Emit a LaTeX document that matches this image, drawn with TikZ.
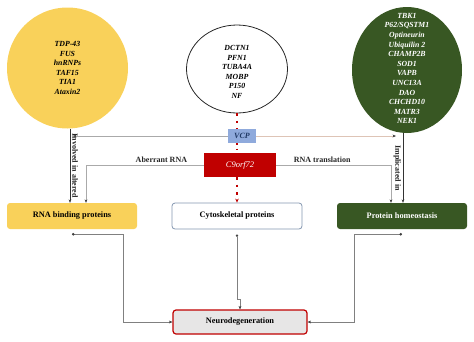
\documentclass[tikz,border=0pt]{standalone}
\usepackage{fontspec}
\setmainfont{Liberation Serif}
\usepackage{tikz}
\usetikzlibrary{arrows.meta, shapes.geometric}
\definecolor{rbpyellow}{RGB}{249,209,90}
\definecolor{homeogreen}{RGB}{56,87,35}
\definecolor{c9red}{RGB}{192,0,0}
\definecolor{vcpblue}{RGB}{143,170,220}
\definecolor{vcpnavy}{RGB}{31,56,100}
\definecolor{cytoblue}{RGB}{132,151,176}
\definecolor{neurogray}{RGB}{231,230,230}
\definecolor{linkgray}{RGB}{170,170,170}
\definecolor{linkrose}{RGB}{222,196,182}

\begin{document}
\begin{tikzpicture}[x=1pt, y=-1pt,
    genes/.style={font=\fontsize{7.8}{9.6}\selectfont\bfseries\itshape, align=center},
    box/.style={rounded corners=3pt, minimum width=130pt, minimum height=26pt,
        font=\fontsize{8.3}{9}\selectfont\bfseries},
    tag/.style={font=\fontsize{8}{9}\selectfont\bfseries, text=black!85, inner sep=2pt},
    tip/.style={-{Stealth[length=3.5pt, width=2.8pt, color=black!75]}},
    dotted link/.style={draw=black!50, {Circle[length=2.5pt, color=black!75]}-{Stealth[length=3.5pt, width=2.8pt, color=black!75]}}]
    \useasboundingbox (0,0) rectangle (474,341);

    % Gene clusters
    \node[circle, fill=rbpyellow, minimum size=121pt] (rbpgenes) at (67.5,68) {};
    \node[genes] (rbplist) at (rbpgenes) {TDP-43\\FUS\\hnRNPs\\TAF15\\TIA1\\Ataxin2};

    \node[ellipse, draw=black!85, thick, minimum width=101pt, minimum height=88pt] (cytogenes) at (237,69) {};
    \node[genes] (cytolist) at (237,72) {DCTN1\\PFN1\\TUBA4A\\MOBP\\P150\\NF};

    \node[ellipse, fill=homeogreen, minimum width=110pt, minimum height=126pt] (homeogenes) at (407,70) {};
    \node[genes, text=white] (homeolist) at (407,68.5) {TBK1\\P62/SQSTM1\\Optineurin\\Ubiquilin 2\\CHAMP2B\\SOD1\\VAPB\\UNC13A\\DAO\\CHCHD10\\MATR3\\NEK1};

    % VCP and C9orf72
    \node[fill=vcpblue, minimum width=28pt, minimum height=14pt, inner sep=0pt,
        text=vcpnavy, font=\fontsize{8}{9}\selectfont\bfseries\itshape] (vcp) at (242,136) {VCP};
    \node[fill=c9red, minimum width=72pt, minimum height=24pt, inner sep=0pt,
        text=white, font=\fontsize{8.5}{9}\selectfont\itshape] (c9) at (240,165) {C9orf72};

    % Protein groups
    \node[box, fill=rbpyellow] (rbp) at (72,216) {RNA binding proteins};
    \node[box, draw=cytoblue, thick, fill=white] (cyto) at (237,216) {Cytoskeletal proteins};
    \node[box, fill=homeogreen, text=white] (homeo) at (402,216) {Protein homeostasis};
    \node[box, draw=c9red, line width=1.2pt, fill=neurogray, minimum width=134pt, minimum height=24pt] (neuro) at (240,322) {Neurodegeneration};

    % Clusters down to their groups
    \draw[black!80, tip] ([xshift=-2pt]rbp.north |- rbpgenes.south) -- ([xshift=-2pt]rbp.north)
        node[tag, midway, rotate=-90, anchor=south] {Involved in altered};
    \draw[black!80, tip] ([xshift=1pt]homeo.north |- homeogenes.south) -- ([xshift=1pt]homeo.north)
        node[tag, midway, rotate=-90, anchor=north] {Implicated in};

    % Red dotted axis
    \draw[c9red, line width=1.3pt, dash pattern=on 2.5pt off 5pt] (cytogenes.south) -- (cytogenes.south |- vcp.north);
    \draw[c9red, line width=1.3pt, dash pattern=on 1.5pt off 4pt] (cytogenes.south |- vcp.south) -- (cytogenes.south |- c9.north);
    \draw[c9red, line width=1.3pt, dash pattern=on 2.5pt off 5pt, -{Stealth[length=4pt, width=3.5pt]}] (cytogenes.south |- c9.south) -- (cyto.north);

    % VCP links
    \draw[linkgray, tip] (vcp.west) -- ([xshift=1pt]rbp.north |- vcp.west);
    \draw[linkrose, tip] (vcp.east) -- ([xshift=-6pt]homeo.north |- vcp.east);

    % C9orf72 links
    \draw[linkgray, tip] (c9.west) -| ([xshift=14pt]rbp.north)
        node[tag, pos=0.18, above] {Aberrant RNA};
    \draw[linkgray, tip] (c9.east) -| ([xshift=-11pt]homeo.north)
        node[tag, pos=0.2, above] {RNA translation};

    % Groups down to neurodegeneration
    \draw[dotted link] ([yshift=-5pt]rbp.south) -- ++(51,0) |- (neuro.west);
    \draw[dotted link] ([yshift=-5pt]cyto.south) -- ++(0,65) -- ++(3,0) -- (neuro.north);
    \draw[dotted link] ([yshift=-5pt]homeo.south) -- ++(-48,0) |- (neuro.east);
\end{tikzpicture}
\end{document}
